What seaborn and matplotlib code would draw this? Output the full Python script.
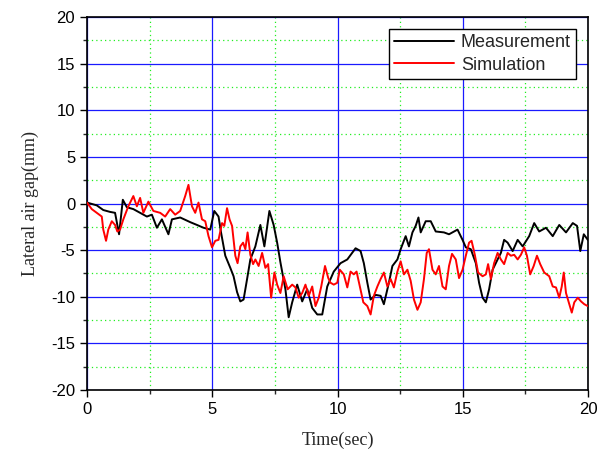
import numpy as np
import pandas as pd
import matplotlib
matplotlib.use("Agg")
import matplotlib.pyplot as plt
from matplotlib.ticker import MultipleLocator
import seaborn as sns

# --- data ---
t_meas = [0.0, 0.39, 0.65, 0.92, 1.12, 1.28, 1.43, 1.59, 1.85, 2.12, 2.39, 2.59, 2.79, 2.99,
          3.25, 3.39, 3.72, 4.12, 4.39, 4.65, 4.92, 5.08, 5.25, 5.35, 5.52, 5.72, 5.85, 5.99,
          6.12, 6.25, 6.39, 6.52, 6.72, 6.92, 7.08, 7.28, 7.45, 7.59, 7.72, 7.92, 8.05, 8.19,
          8.39, 8.59, 8.79, 8.99, 9.19, 9.39, 9.59, 9.85, 10.12, 10.39, 10.72, 10.92, 11.05,
          11.19, 11.32, 11.52, 11.72, 11.85, 12.05, 12.19, 12.39, 12.52, 12.72, 12.85, 12.99,
          13.12, 13.23, 13.32, 13.52, 13.72, 13.92, 14.25, 14.45, 14.79, 14.99, 15.12, 15.32,
          15.52, 15.65, 15.79, 15.92, 16.05, 16.19, 16.39, 16.52, 16.65, 16.79, 16.99, 17.19,
          17.39, 17.65, 17.85, 18.05, 18.32, 18.59, 18.85, 19.12, 19.39, 19.56, 19.69, 19.83,
          19.99]
measurement = [0.1, -0.2, -0.7, -0.9, -1.0, -3.3, 0.4, -0.4, -0.6, -1.0, -1.4, -1.2, -2.6, -1.7,
               -3.3, -1.7, -1.5, -2.0, -2.3, -2.6, -2.8, -0.8, -1.4, -3.1, -5.6, -6.9, -7.8, -9.5,
               -10.5, -10.3, -8.1, -6.0, -4.6, -2.3, -4.6, -0.8, -2.3, -4.2, -6.3, -9.2, -12.2, -10.6,
               -8.7, -10.5, -9.2, -11.2, -11.9, -11.9, -8.9, -7.3, -6.4, -6.0, -4.8, -5.1, -6.4,
               -8.5, -10.3, -9.8, -9.9, -10.8, -8.5, -6.7, -6.0, -4.9, -3.5, -4.6, -3.1,
               -2.4, -1.5, -3.1, -1.9, -1.9, -3.0, -3.1, -3.3, -2.8, -3.9, -4.7, -4.9,
               -6.4, -8.5, -10.1, -10.6, -9.2, -7.1, -6.0, -5.3, -3.9, -4.2, -5.1, -3.9,
               -4.6, -3.5, -2.1, -3.0, -2.6, -3.5, -2.3, -3.1, -2.1, -2.4, -5.1, -3.3,
               -3.9]

t_sim = [0.0, 0.19, 0.39, 0.59, 0.65, 0.76, 0.85, 0.99, 1.12, 1.21, 1.32, 1.45, 1.65, 1.85,
         1.99, 2.12, 2.25, 2.45, 2.65, 2.92, 3.12, 3.32, 3.52, 3.72, 3.92, 4.05, 4.19, 4.32,
         4.45, 4.59, 4.72, 4.85, 4.99, 5.12, 5.25, 5.39, 5.48, 5.59, 5.69, 5.79, 5.92, 6.01,
         6.12, 6.23, 6.32, 6.41, 6.52, 6.63, 6.72, 6.85, 6.99, 7.12, 7.23, 7.35, 7.48, 7.59,
         7.72, 7.85, 8.01, 8.19, 8.32, 8.45, 8.59, 8.72, 8.85, 8.99, 9.12, 9.25, 9.35, 9.50,
         9.63, 9.72, 9.85, 9.99, 10.09, 10.25, 10.39, 10.52, 10.65, 10.76, 10.89, 11.03, 11.19,
         11.32, 11.45, 11.59, 11.72, 11.85, 11.99, 12.12, 12.25, 12.39, 12.52, 12.65, 12.79,
         12.92, 13.05, 13.19, 13.32, 13.45, 13.56, 13.65, 13.79, 13.92, 14.05, 14.19, 14.32,
         14.45, 14.57, 14.72, 14.85, 14.99, 15.12, 15.25, 15.35, 15.48, 15.61, 15.79, 15.92,
         16.01, 16.12, 16.25, 16.39, 16.52, 16.65, 16.79, 16.92, 17.05, 17.19, 17.32, 17.45,
         17.56, 17.69, 17.83, 17.96, 18.09, 18.25, 18.45, 18.59, 18.72, 18.85, 18.95, 19.03,
         19.12, 19.25, 19.35, 19.45, 19.59, 19.72, 19.85, 19.99]
simulation = [0.1, -0.6, -1.0, -1.4, -2.8, -4.0, -2.8, -1.9, -2.3, -3.0, -2.8, -1.7, -0.3, 0.8,
              -0.3, 0.6, -1.0, 0.2, -0.8, -1.0, -1.4, -0.6, -1.2, -0.8, 0.8, 2.0, -0.3, -1.0,
              0.1, -1.7, -1.9, -3.5, -4.7, -4.0, -3.9, -2.1, -2.4, -0.5, -1.7, -2.4, -5.6, -6.4,
              -4.6, -4.2, -4.9, -3.1, -5.5, -6.5, -6.0, -6.7, -5.3, -6.9, -6.5, -10.1, -7.4, -8.7,
              -9.6, -7.8, -9.2, -8.7, -9.0, -10.1, -9.6, -8.7, -9.9, -8.9, -11.0, -10.1, -8.9, -6.7,
              -8.0, -8.5, -8.7, -8.5, -7.1, -7.6, -9.0, -7.3, -7.6, -7.3, -8.9, -10.6, -11.0,
              -11.9, -9.9, -8.9, -8.1, -7.4, -8.9, -8.1, -9.0, -7.3, -6.2, -7.6, -7.1,
              -8.3, -10.3, -11.4, -10.6, -8.1, -5.3, -4.9, -7.1, -7.6, -6.7, -8.9, -9.2,
              -6.7, -5.4, -6.0, -8.0, -7.1, -5.6, -4.2, -4.0, -5.5, -7.4, -7.8, -7.6,
              -6.5, -8.1, -6.4, -5.3, -6.0, -6.5, -5.3, -5.6, -5.5, -6.0, -5.5, -4.7,
              -5.6, -7.6, -6.7, -5.6, -6.5, -7.4, -7.8, -8.9, -9.0, -10.1, -8.9, -7.4,
              -9.6, -10.8, -11.7, -10.6, -10.1, -10.5, -10.8, -11.0]

x_ticks = [0, 5, 10, 15, 20]
y_ticks = [-20, -15, -10, -5, 0, 5, 10, 15, 20]

df_meas = pd.DataFrame({"Time": t_meas, "Gap": measurement})
df_sim = pd.DataFrame({"Time": t_sim, "Gap": simulation})

sns.set_style("ticks")
plt.rcParams["font.family"] = ["Liberation Sans", "DejaVu Sans"]
plt.rcParams["axes.unicode_minus"] = False

fig = plt.figure(figsize=(6.05, 4.57), dpi=100)
ax = fig.add_axes([0.1438, 0.1466, 0.8282, 0.8162])

sns.lineplot(data=df_meas, x="Time", y="Gap", color="black", lw=1.4, label="Measurement",
             estimator=None, sort=False, ax=ax, zorder=3)
sns.lineplot(data=df_sim, x="Time", y="Gap", color="#ff0000", lw=1.4, label="Simulation",
             estimator=None, sort=False, ax=ax, zorder=4)

ax.set_xlim(0, 20)
ax.set_ylim(-20, 20)
ax.set_xticks(x_ticks)
ax.set_yticks(y_ticks)
ax.xaxis.set_minor_locator(MultipleLocator(2.5))
ax.yaxis.set_minor_locator(MultipleLocator(2.5))

ax.grid(which="major", color="#1a1aff", lw=0.9, ls="-", zorder=1)
ax.grid(which="minor", color="#22ee22", lw=0.9, ls=(0, (1, 2.5)), zorder=1)
ax.set_axisbelow(True)

ax.tick_params(which="major", direction="out", length=5, width=1, labelsize=12, colors="black")
ax.tick_params(which="minor", direction="out", length=3, width=1)
for s in ax.spines.values():
    s.set_color("black")
    s.set_linewidth(1.2)

ax.set_xlabel("Time(sec)", fontsize=13, family=["Liberation Serif", "DejaVu Serif"], labelpad=11)
ax.set_ylabel("Lateral air gap(mm)", fontsize=13, family=["Liberation Serif", "DejaVu Serif"], labelpad=9)

leg = ax.legend(loc="upper right", fontsize=13, frameon=True, fancybox=False, framealpha=1,
                edgecolor="black", handlelength=3.3, handletextpad=0.4, borderpad=0.3,
                labelspacing=0.3, borderaxespad=0.65)
leg.get_frame().set_linewidth(1.0)

fig.savefig("out.png", dpi=100)
